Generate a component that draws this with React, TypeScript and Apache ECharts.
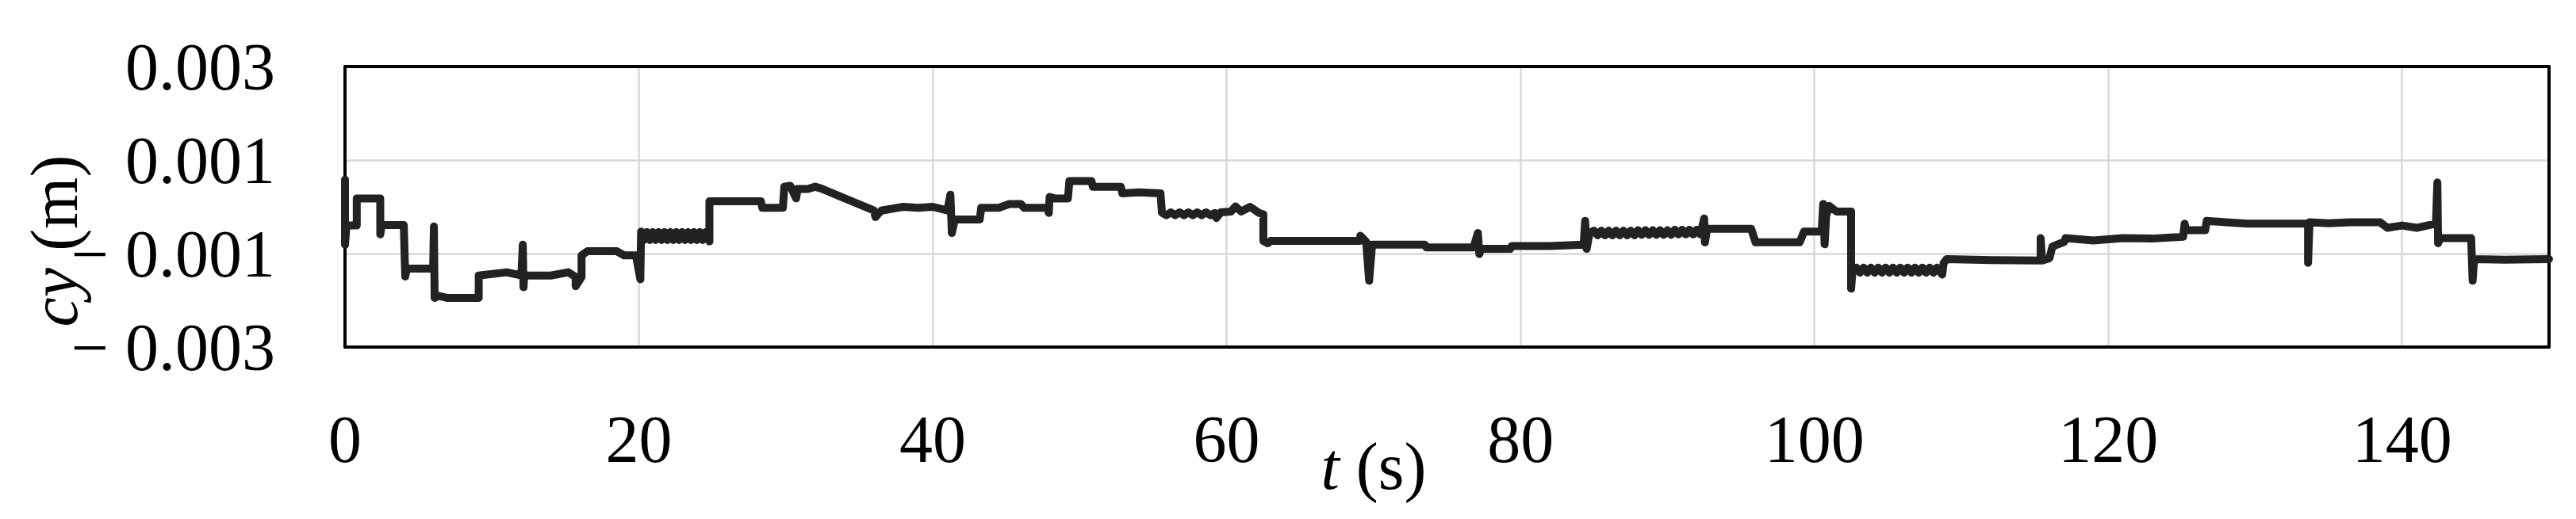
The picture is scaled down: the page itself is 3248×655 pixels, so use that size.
import React, { useEffect, useRef } from "react";
import * as echarts from "echarts";

// x-axis ticks (s) and y-axis ticks (m)
const xTicks = [0, 20, 40, 60, 80, 100, 120, 140];
const yTicks = [-0.003, -0.001, 0.001, 0.003];

// cy (m) against t (s), segment by segment
const seg0to20: [number, number][] = [
  [0, 0.00058], [0, -0.00081], [0.1, -0.0004], [0.8, -0.0004], [0.8, 0.00018], [2.4, 0.00018],
  [2.4, -0.00059], [2.5, -0.00039], [4.0, -0.00039], [4.1, -0.00149], [4.2, -0.00132], [6.0, -0.00132],
  [6.05, -0.00042], [6.1, -0.00195], [6.3, -0.0019], [7.0, -0.00195], [9.1, -0.00195], [9.1, -0.00147],
  [11.0, -0.0014], [12.0, -0.00147], [12.1, -0.00081], [12.15, -0.00172], [12.2, -0.00147], [14.0, -0.00147],
  [15.2, -0.0014], [15.7, -0.0015], [15.7, -0.0017], [16.1, -0.0015], [16.1, -0.00104], [16.5, -0.00095],
  [18.5, -0.00095], [19.0, -0.00104], [19.8, -0.00104], [20.1, -0.00155],
];
const seg20to25: [number, number][] = [
  [20.15, -0.00053], [20.35, -0.00071], [20.55, -0.00054], [20.75, -0.00071], [20.95, -0.00054], [21.15, -0.00071],
  [21.35, -0.00054], [21.55, -0.00071], [21.75, -0.00054], [21.95, -0.00071], [22.15, -0.00054], [22.35, -0.00071],
  [22.55, -0.00054], [22.75, -0.00071], [22.95, -0.00054], [23.15, -0.00071], [23.35, -0.00054], [23.55, -0.00071],
  [23.75, -0.00054], [23.95, -0.00071], [24.15, -0.00054], [24.35, -0.00071], [24.55, -0.00054], [24.8, -0.00074],
];
const seg25to62: [number, number][] = [
  [24.8, 0.00012], [28.3, 0.00012], [28.4, -0.00002], [29.8, -0.00002], [29.9, 0.00043], [30.3, 0.00045],
  [30.7, 0.00018], [30.8, 0.00038], [31.5, 0.00038], [32.0, 0.00043], [32.5, 0.00038], [36.0, -0.00008],
  [36.1, -0.00022], [36.5, -0.00008], [38.0, 0.0], [39.0, -0.00002], [40.0, 0.0], [41.0, -0.00008],
  [41.2, 0.00026], [41.3, -0.00056], [41.5, -0.00027], [43.2, -0.00027], [43.3, -0.00002], [44.5, -0.00002],
  [45.2, 0.00006], [46.0, 0.00006], [46.2, -0.00002], [47.8, -0.00002], [47.9, -0.00013], [47.95, 0.00021],
  [48.3, 0.00018], [49.2, 0.00018], [49.3, 0.00055], [50.8, 0.00055], [50.9, 0.00043], [52.8, 0.00043],
  [52.9, 0.00029], [54.0, 0.00031], [55.5, 0.00029], [55.6, -0.00013], [55.9, -0.00018], [56.2, -0.00012],
  [56.5, -0.00018], [56.8, -0.00012], [57.1, -0.00018], [57.4, -0.00012], [57.7, -0.00018], [58.0, -0.00012],
  [58.3, -0.00018], [58.6, -0.00012], [58.9, -0.00018], [59.2, -0.00013], [59.3, -0.00024], [59.6, -0.00012],
  [60.3, -0.0001], [60.6, 0.00001], [61.0, -0.0001], [61.6, 0.0], [62.2, -0.00013], [62.5, -0.00016],
];
const seg62to85: [number, number][] = [
  [62.5, -0.00073], [62.8, -0.00078], [63.0, -0.00073], [69.1, -0.00073], [69.1, -0.00062], [69.5, -0.00075],
  [69.7, -0.00158], [69.9, -0.00081], [73.5, -0.00081], [73.6, -0.00087], [76.8, -0.00087], [77.1, -0.00056],
  [77.2, -0.00101], [77.3, -0.0009], [79.3, -0.0009], [79.4, -0.00084], [82.0, -0.00084], [84.3, -0.00081],
  [84.4, -0.0003], [84.5, -0.0009], [84.7, -0.00056],
];
const seg85to102: [number, number][] = [
  [85.0, -0.00051], [85.25, -0.00061], [85.5, -0.00051], [85.75, -0.00061], [86.0, -0.00051], [86.25, -0.00061],
  [86.5, -0.00051], [86.75, -0.00061], [87.0, -0.00051], [87.25, -0.00061], [87.5, -0.00051], [87.75, -0.00061],
  [88.0, -0.0005], [88.25, -0.0006], [88.5, -0.0005], [88.75, -0.0006], [89.0, -0.0005], [89.25, -0.0006],
  [89.5, -0.0005], [89.75, -0.0006], [90.0, -0.0005], [90.25, -0.0006], [90.5, -0.00049], [90.75, -0.00059],
  [91.0, -0.00049], [91.25, -0.00059], [91.5, -0.00049], [91.75, -0.00059], [92.0, -0.00049], [92.25, -0.00059],
  [92.5, -0.00025], [92.55, -0.00076], [92.7, -0.00047], [95.7, -0.00047], [96.0, -0.00076], [99.0, -0.00076],
  [99.3, -0.00053], [100.5, -0.00053], [100.6, 0.00006], [100.7, -0.0008], [100.8, -0.0002], [101.0, 0.00002],
  [101.5, -0.0001], [102.5, -0.0001],
];
const seg102to125: [number, number][] = [
  [102.5, -0.00175], [102.6, -0.00135], [102.85, -0.0013], [103.1, -0.00141], [103.35, -0.0013], [103.6, -0.00141],
  [103.85, -0.0013], [104.1, -0.00141], [104.35, -0.0013], [104.6, -0.00141], [104.85, -0.0013], [105.1, -0.00141],
  [105.35, -0.0013], [105.6, -0.00141], [105.85, -0.0013], [106.1, -0.00141], [106.35, -0.0013], [106.6, -0.00141],
  [106.85, -0.0013], [107.1, -0.00141], [107.35, -0.0013], [107.6, -0.00141], [107.85, -0.0013], [108.1, -0.00141],
  [108.35, -0.0013], [108.7, -0.00145], [108.8, -0.0012], [109.0, -0.00112], [112.0, -0.00114], [115.4, -0.00115],
  [115.4, -0.00067], [115.5, -0.00115], [116.0, -0.0011], [116.2, -0.00085], [117.0, -0.00075], [117.1, -0.00067],
  [119.0, -0.00072], [121.0, -0.00067], [123.0, -0.00068], [125.1, -0.00064],
];
const seg125to150: [number, number][] = [
  [125.2, -0.00036], [125.3, -0.0005], [126.6, -0.0005], [126.7, -0.0003], [128.0, -0.00033], [129.5, -0.00036],
  [133.6, -0.00036], [133.6, -0.0012], [133.7, -0.00033], [135.0, -0.00035], [136.5, -0.00033], [138.5, -0.00033],
  [139.0, -0.00045], [140.0, -0.0004], [141.0, -0.00045], [142.3, -0.00036], [142.4, 0.00052], [142.45, -0.00078],
  [142.6, -0.00067], [144.7, -0.00067], [144.8, -0.00158], [144.9, -0.00112], [147.0, -0.00113], [150.0, -0.00112],
];

const samples = [
  ...seg0to20, ...seg20to25, ...seg25to62, ...seg62to85, ...seg85to102, ...seg102to125, ...seg125to150,
];

const FONT = "'Liberation Serif', 'DejaVu Serif', serif";
const frameLine = { show: true, onZero: false, lineStyle: { color: "#000000", width: 4 } };
const gridSplit = { show: true, lineStyle: { color: "#d9d9d9", width: 2.5 } };

export default function App() {
  const ref = useRef<HTMLDivElement>(null);
  useEffect(() => {
    document.body.style.margin = "0";
    if (!ref.current) return;
    const chart = echarts.init(ref.current, undefined, { renderer: "svg" });
    chart.setOption({
      animation: false,
      backgroundColor: "#ffffff",
      grid: { left: 435, top: 84, right: 34, bottom: 217 },
      xAxis: [
        {
          type: "value",
          position: "bottom",
          min: 0,
          max: 150,
          interval: 20,
          axisLine: frameLine,
          axisTick: { show: false },
          splitLine: gridSplit,
          axisLabel: {
            fontFamily: FONT,
            fontSize: 84,
            color: "#000",
            margin: 74,
            showMaxLabel: false,
            formatter: (v: number) => (xTicks.includes(v) ? String(v) : ""),
          },
        },
        {
          type: "value",
          position: "top",
          min: 0,
          max: 150,
          interval: 20,
          axisLine: frameLine,
          axisTick: { show: false },
          splitLine: { show: false },
          axisLabel: { show: false },
        },
      ],
      yAxis: [
        {
          type: "value",
          position: "left",
          min: -0.003,
          max: 0.003,
          interval: 0.002,
          axisLine: frameLine,
          axisTick: { show: false },
          splitLine: gridSplit,
          axisLabel: {
            fontFamily: FONT,
            fontSize: 84,
            color: "#000",
            margin: 88,
            formatter: (v: number) => {
              const k = yTicks.find((t) => Math.abs(t - v) < 1e-9);
              if (k === undefined) return "";
              return k < 0 ? "\u2212 " + Math.abs(k).toFixed(3) : k.toFixed(3);
            },
          },
        },
        {
          type: "value",
          position: "right",
          min: -0.003,
          max: 0.003,
          interval: 0.002,
          axisLine: frameLine,
          axisTick: { show: false },
          splitLine: { show: false },
          axisLabel: { show: false },
        },
      ],
      graphic: [
        {
          type: "text",
          x: 68,
          y: 304,
          rotation: Math.PI / 2,
          style: {
            text: "{i|cy} (m)",
            fontFamily: FONT,
            fontSize: 84,
            fill: "#000",
            align: "center",
            verticalAlign: "middle",
            rich: { i: { fontStyle: "italic", fontFamily: FONT, fontSize: 84 } },
          },
        },
        {
          type: "text",
          x: 1732,
          y: 588,
          style: {
            text: "{i|t} (s)",
            fontFamily: FONT,
            fontSize: 84,
            fill: "#000",
            align: "center",
            verticalAlign: "middle",
            rich: { i: { fontStyle: "italic", fontFamily: FONT, fontSize: 84 } },
          },
        },
      ],
      series: [
        {
          type: "line",
          xAxisIndex: 0,
          yAxisIndex: 0,
          data: samples,
          showSymbol: false,
          symbol: "none",
          lineStyle: { color: "#222222", width: 10, cap: "round", join: "round" },
          z: 3,
        },
      ],
    });
    return () => chart.dispose();
  }, []);
  return <div ref={ref} style={{ width: 3248, height: 655 }} />;
}
